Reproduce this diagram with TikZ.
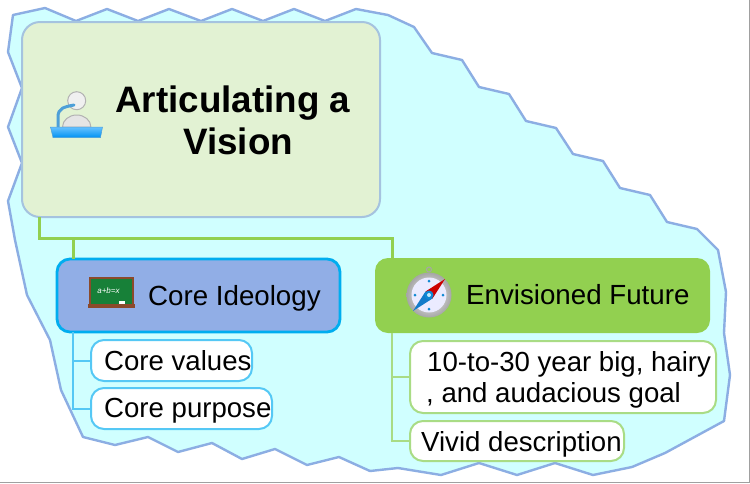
\documentclass[tikz,border=0pt]{standalone}
\usepackage{fontspec}
\setmainfont{Liberation Sans}
\definecolor{cloudfill}{HTML}{D0FFFF}
\definecolor{cloudline}{HTML}{8CAEE3}
\definecolor{rootfill}{HTML}{E2F2D3}
\definecolor{rootline}{HTML}{A5C3DF}
\definecolor{ideofill}{HTML}{91AEE6}
\definecolor{ideoline}{HTML}{00ADEF}
\definecolor{futurefill}{HTML}{92D050}
\definecolor{subblue}{HTML}{55C8F5}
\definecolor{subgreen}{HTML}{A9DC85}
\definecolor{framegray}{HTML}{A0A0A0}
\definecolor{iconblue}{HTML}{4D9FD8}
\definecolor{boardgreen}{HTML}{178038}
\definecolor{boardbrown}{HTML}{8B4A2B}
\tikzset{
  x=1pt,y=-1pt,
  box/.style={rectangle,rounded corners=#1,inner sep=0pt,outer sep=0pt},
  subblock/.style={box=13pt,fill=white,line width=2pt},
  title/.style={anchor=base west,inner sep=0pt,font=\fontsize{36.8}{40}\selectfont\bfseries},
  main/.style={anchor=base west,inner sep=0pt,font=\fontsize{27.7}{32}\selectfont},
  sub/.style={anchor=base west,inner sep=0pt,font=\fontsize{27.6}{32}\selectfont},
  wire/.style={line width=#1,line join=miter}
}
\begin{document}
\begin{tikzpicture}
\useasboundingbox (0,0) rectangle (750,483);
\fill[white] (0,0) rectangle (750,483);
% frame edges
\draw[framegray,line width=1.4pt] (749.4,0) -- (749.4,482.4) -- (0,482.4);
% cloud
\draw[fill=cloudfill,draw=cloudline,line width=2.4pt,line join=round]
 (13,15)--(45,8)--(76,21)--(107,9)--(138,21)--(169,9)--(201,21)--(232,9)--(263,21)--(294,9)--(325,21)--(356,9)
 --(388,15)--(414,27)--(432,53)--(462,60)--(479,87)--(509,94)--(526,121)--(556,128)--(573,154)--(603,161)
 --(620,188)--(650,195)--(667,222)--(697,229)--(708,240)--(718,250)--(726,292)--(724,333)--(730,375)--(724,421)
 --(665,453)--(632,467)--(593,475)--(555,463)--(517,475)--(479,463)--(441,475)--(398,468)--(370,471)
 --(339,457)--(307,465)--(275,449)--(242,459)--(212,443)--(178,452)--(148,437)--(115,445)--(83,437)
 --(61,390)--(50,340)--(27,295)--(15,240)--(8,201)--(22,163)--(8,127)--(22,88)--(8,52)--cycle;

% boxes
\node[box=18pt,fill=rootfill,draw=rootline,line width=2pt,minimum width=358pt,minimum height=195pt] (root) at (201,119.5) {};
\node[box=13pt,fill=ideofill,draw=ideoline,line width=2.8pt,minimum width=283pt,minimum height=73pt] (ideo) at (198.5,295.5) {};
\node[box=13pt,fill=futurefill,minimum width=335pt,minimum height=75pt] (future) at (542.5,295.5) {};
\node[subblock,draw=subblue,minimum width=161pt,minimum height=41pt] (values) at (171.5,360.5) {};
\node[subblock,draw=subblue,minimum width=181pt,minimum height=41pt] (purpose) at (181.5,408.5) {};
\node[subblock,draw=subgreen,minimum width=306pt,minimum height=72pt] (goal) at (563,377) {};
\node[subblock,draw=subgreen,minimum width=214pt,minimum height=40pt] (vivid) at (517,441) {};

% connectors
\coordinate (bus) at (39,238);
\coordinate (ideotop) at (73,0 |- ideo.north);
\coordinate (futuretop) at (392,0 |- future.north);
\coordinate (ideofoot) at (73,0 |- ideo.south);
\coordinate (futurefoot) at (392,0 |- future.south);
\coordinate (rootfoot) at (39,0 |- root.south);
\coordinate (ideobranch) at (73,238);
\coordinate (futurebranch) at (392,238);
\draw[futurefill,wire=3pt] (rootfoot) -- (bus) -- (futurebranch) -- (futuretop);
\draw[futurefill,wire=3pt] (ideobranch) -- (ideotop);
\draw[subblue,wire=2pt] (ideofoot) |- (values.west);
\draw[subblue,wire=2pt] (ideofoot) |- (purpose.west);
\draw[subgreen,wire=2.2pt] (futurefoot) |- (goal.west);
\draw[subgreen,wire=2.2pt] (futurefoot) |- (vivid.west);

% texts
\node[title] (t1) at (115,112) {Articulating a};
\node[title] (t2) at (183,154) {Vision};
\node[main] (t3) at (148,305) {Core Ideology};
\node[main] (t4) at (466,304) {Envisioned Future};
\node[sub] (t5) at (104,370) {Core values};
\node[sub] (t6) at (104,417) {Core purpose};
\node[sub] (t7) at (427,371) {10-to-30 year big, hairy};
\node[sub] (t8) at (426,402) {, and audacious goal};
\node[sub] (t9) at (421,451) {Vivid description};

% presenter icon
\fill[black!6,draw=black!30,line width=1pt] (76.7,100.7) circle (9);
\fill[black!10,draw=black!30,line width=1pt] (62.5,127) arc[start angle=180,end angle=360,x radius=14.2,y radius=12] -- cycle;
\draw[iconblue,line width=3pt,line cap=round] (58,127) -- (58,117) .. controls (58,108) and (64,107) .. (74,105);
\shade[top color=cyan!60!blue!60,bottom color=cyan!60!blue!95!black,draw=iconblue,line width=.5pt]
  (50.5,127) -- (102.5,127) -- (100.5,137.5) -- (53,137.5) -- cycle;

% blackboard icon
\fill[boardbrown] (89,276.5) rectangle (134,305);
\fill[boardgreen] (91,279) rectangle (132,304);
\fill[boardbrown] (87.5,303.5) rectangle (135,307.5);
\node[text=white,inner sep=0pt,font=\fontsize{8}{8}\selectfont\itshape] (chalk) at (108.5,291) {a+b=x};
\fill[white] (118.5,301.2) rectangle (125,304);

% compass icon
\shade[inner color=white,outer color=black!35] (429,295) circle (22.5);
\draw[black!35,line width=1pt] (429,269.5) circle (2.5);
\fill[white!92!blue] (429,295) circle (17.5);
\foreach \a in {0,90,180,270}{\fill[cyan!70!blue] (429,295) ++(\a:14) circle (1.5);}
\fill[red!80!black] (445,279) -- (425.5,291.5) -- (432.5,298.5) -- cycle;
\fill[cyan!60!blue] (413,311) -- (425.5,291.5) -- (432.5,298.5) -- cycle;
\fill[cyan!70!blue] (429,295) circle (4.5);
\fill[cyan!25] (429,295) circle (2);
\end{tikzpicture}
\end{document}
